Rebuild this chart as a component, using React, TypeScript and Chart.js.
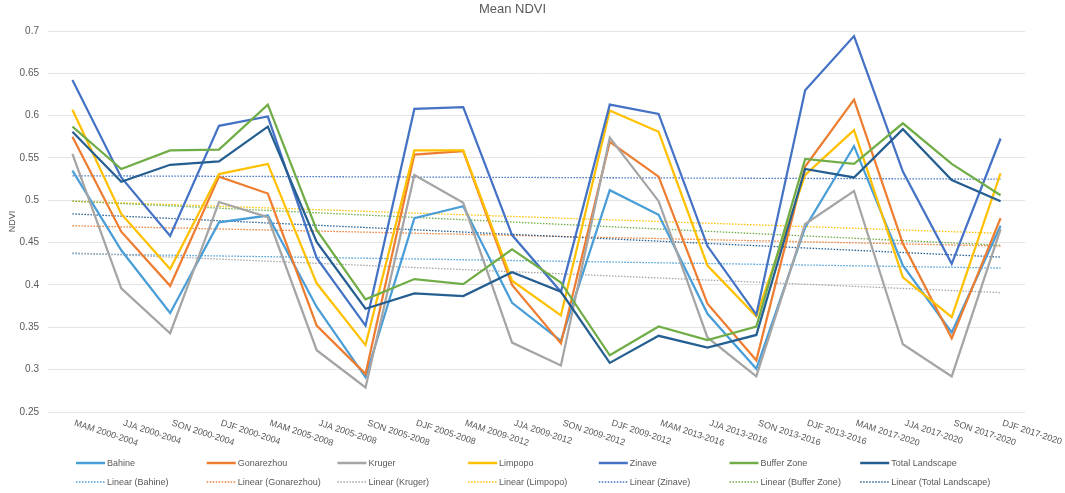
import React, { useEffect, useRef } from 'react';
import { Chart, registerables } from 'chart.js';

Chart.register(...registerables);

const categories = [
  'MAM 2000-2004', 'JJA 2000-2004', 'SON 2000-2004', 'DJF 2000-2004',
  'MAM 2005-2008', 'JJA 2005-2008', 'SON 2005-2008', 'DJF 2005-2008',
  'MAM 2009-2012', 'JJA 2009-2012', 'SON 2009-2012', 'DJF 2009-2012',
  'MAM 2013-2016', 'JJA 2013-2016', 'SON 2013-2016', 'DJF 2013-2016',
  'MAM 2017-2020', 'JJA 2017-2020', 'SON 2017-2020', 'DJF 2017-2020',
];

const bahine = [0.535, 0.441, 0.367, 0.474, 0.482, 0.374, 0.291, 0.479, 0.493, 0.379, 0.334, 0.512, 0.483, 0.366, 0.301, 0.468, 0.564, 0.423, 0.344, 0.470];
const gonarezhou = [0.575, 0.463, 0.399, 0.528, 0.508, 0.352, 0.295, 0.554, 0.558, 0.400, 0.331, 0.569, 0.528, 0.378, 0.311, 0.540, 0.619, 0.449, 0.337, 0.479];
const kruger = [0.555, 0.396, 0.343, 0.498, 0.480, 0.323, 0.279, 0.530, 0.497, 0.332, 0.305, 0.574, 0.499, 0.338, 0.292, 0.472, 0.511, 0.330, 0.292, 0.466];
const limpopo = [0.607, 0.484, 0.419, 0.531, 0.543, 0.402, 0.329, 0.559, 0.559, 0.405, 0.364, 0.606, 0.581, 0.423, 0.363, 0.530, 0.583, 0.409, 0.362, 0.532];
const zinave = [0.642, 0.527, 0.458, 0.588, 0.599, 0.432, 0.352, 0.608, 0.610, 0.459, 0.392, 0.613, 0.602, 0.446, 0.365, 0.630, 0.694, 0.534, 0.425, 0.573];
const bufferZone = [0.587, 0.537, 0.559, 0.560, 0.613, 0.465, 0.383, 0.407, 0.401, 0.442, 0.403, 0.317, 0.351, 0.335, 0.351, 0.549, 0.543, 0.591, 0.543, 0.506];
const totalLandscape = [0.581, 0.522, 0.542, 0.546, 0.587, 0.451, 0.372, 0.390, 0.387, 0.415, 0.392, 0.308, 0.340, 0.326, 0.341, 0.537, 0.527, 0.584, 0.524, 0.499];

// Linear trend lines: value at first and last category
const trendBahine = [0.437, 0.420];
const trendGonarezhou = [0.470, 0.446];
const trendKruger = [0.438, 0.391];
const trendLimpopo = [0.499, 0.461];
const trendZinave = [0.529, 0.525];
const trendBufferZone = [0.499, 0.447];
const trendTotalLandscape = [0.484, 0.433];

const seriesNames = ['Bahine', 'Gonarezhou', 'Kruger', 'Limpopo', 'Zinave', 'Buffer Zone', 'Total Landscape'];
const seriesValues = [bahine, gonarezhou, kruger, limpopo, zinave, bufferZone, totalLandscape];
const trendValues = [trendBahine, trendGonarezhou, trendKruger, trendLimpopo, trendZinave, trendBufferZone, trendTotalLandscape];
const seriesColors = ['#4a9ed8', '#ed7d31', '#a5a5a5', '#ffc000', '#4472c4', '#70ad47', '#255e91'];

const yMin = 0.25;
const yMax = 0.7;
const yStep = 0.05;

const FONT = "'Liberation Sans', Arial, sans-serif";
const TEXT = '#595959';

const xLabelPlugin = {
  id: 'rotatedXLabels',
  afterDraw(chart: any) {
    const ctx = chart.ctx;
    const xs = chart.scales.x;
    const bottom = chart.chartArea.bottom;
    ctx.save();
    ctx.font = `9px ${FONT}`;
    ctx.fillStyle = TEXT;
    ctx.textAlign = 'left';
    ctx.textBaseline = 'middle';
    categories.forEach((lab, i) => {
      const x = xs.getPixelForTick(i);
      ctx.save();
      ctx.translate(x + 2, bottom + 11);
      ctx.rotate((18 * Math.PI) / 180);
      ctx.fillText(lab, 0, 0);
      ctx.restore();
    });
    ctx.restore();
  },
};

const gridLegendPlugin = {
  id: 'gridLegend',
  afterDraw(chart: any) {
    const ctx = chart.ctx;
    const x0 = 76;
    const step = 130.7;
    const rows = [463, 482];
    ctx.save();
    ctx.font = `9px ${FONT}`;
    ctx.fillStyle = TEXT;
    ctx.textAlign = 'left';
    ctx.textBaseline = 'middle';
    chart.data.datasets.forEach((ds: any, i: number) => {
      const isTrend = i >= seriesNames.length;
      const col = isTrend ? i - seriesNames.length : i;
      const x = x0 + col * step;
      const y = rows[isTrend ? 1 : 0];
      ctx.save();
      ctx.strokeStyle = ds.borderColor;
      ctx.lineWidth = isTrend ? 1.3 : 2.5;
      ctx.setLineDash(isTrend ? [1.5, 1.5] : []);
      ctx.beginPath();
      ctx.moveTo(x, y);
      ctx.lineTo(x + 29, y);
      ctx.stroke();
      ctx.restore();
      ctx.fillText(ds.label, x + 31, y + 0.5);
    });
    ctx.restore();
  },
};

export default function App() {
  const canvasRef = useRef<HTMLCanvasElement | null>(null);

  useEffect(() => {
    if (!canvasRef.current) return;
    const lineSets = seriesNames.map((name, k) => ({
      label: name,
      data: seriesValues[k],
      borderColor: seriesColors[k],
      backgroundColor: seriesColors[k],
      borderWidth: 2.25,
      pointRadius: 0,
      tension: 0,
      fill: false,
      order: 20 - k,
    }));
    const trendSets = seriesNames.map((name, k) => ({
      label: `Linear (${name})`,
      data: [
        { x: categories[0], y: trendValues[k][0] },
        { x: categories[categories.length - 1], y: trendValues[k][1] },
      ],
      borderColor: seriesColors[k],
      backgroundColor: seriesColors[k],
      borderWidth: 1.3,
      borderDash: [1.5, 1.5],
      pointRadius: 0,
      tension: 0,
      fill: false,
      order: 40 - k,
    }));

    const chart = new Chart(canvasRef.current, {
      type: 'line',
      data: {
        labels: categories,
        datasets: [...lineSets, ...trendSets] as any,
      },
      options: {
        responsive: false,
        animation: false,
        layout: { padding: { left: 0, right: 40, top: 0, bottom: 0 } },
        plugins: {
          legend: { display: false },
          tooltip: { enabled: false },
          title: {
            display: true,
            text: 'Mean NDVI',
            color: TEXT,
            font: { family: FONT, size: 13, weight: 'normal' },
            padding: { top: 2, bottom: 13.4 },
          },
        },
        scales: {
          x: {
            type: 'category',
            offset: true,
            grid: { display: false },
            border: { display: false },
            ticks: { display: false },
            afterFit: (scale: any) => {
              scale.height = 81;
            },
          },
          y: {
            min: yMin,
            max: yMax,
            grid: { color: '#e4e4e4', lineWidth: 1, drawTicks: false },
            border: { display: false },
            ticks: {
              stepSize: yStep,
              padding: 9,
              color: TEXT,
              font: { family: FONT, size: 10 },
              callback: (v: any) => String(Number(Number(v).toFixed(2))),
            },
            title: {
              display: true,
              text: 'NDVI',
              color: TEXT,
              font: { family: FONT, size: 9 },
              padding: { top: 7, bottom: 0 },
            },
            afterFit: (scale: any) => {
              scale.width = 48;
            },
          },
        },
      },
      plugins: [xLabelPlugin, gridLegendPlugin],
    } as any);
    return () => chart.destroy();
  }, []);

  return (
    <div style={{ position: 'absolute', left: 0, top: 0, width: 1065, height: 493, background: '#fff' }}>
      <canvas ref={canvasRef} width={1065} height={493} style={{ display: 'block' }} />
    </div>
  );
}
